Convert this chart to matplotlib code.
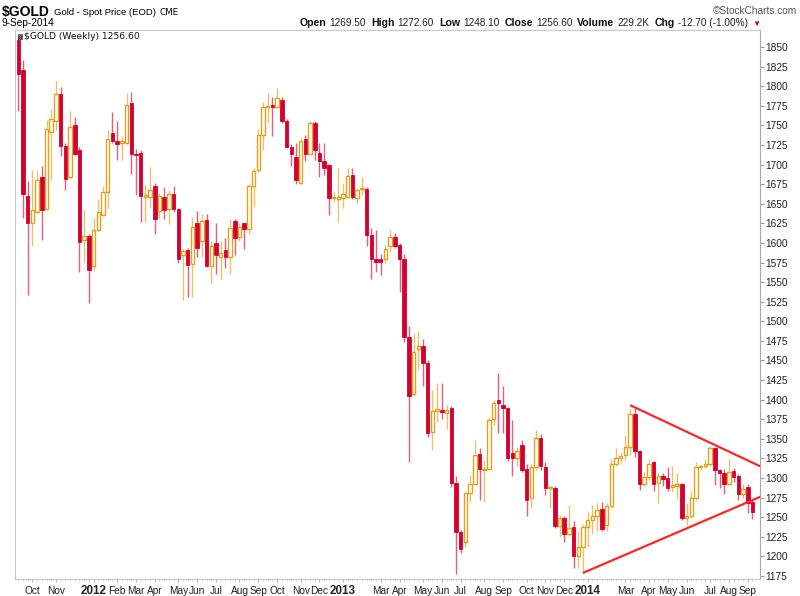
import matplotlib
matplotlib.use("Agg")
import matplotlib.pyplot as plt
import matplotlib.transforms as mtrans
import numpy as np
import pandas as pd

# ---------------- data (weekly OHLC) ----------------
start_week = "2011-09-12"
opens = [1859,1821,1660,1625,1640,1684,1643,1742,1756,1790,
         1724,1684,1751,1718,1604,1609,1571,1617,1636,1665,
         1740,1730,1727,1727,1778,1713,1715,1658,1659,1673,
         1641,1659,1643,1663,1643,1585,1591,1573,1626,1602,
         1629,1571,1600,1582,1591,1582,1628,1607,1625,1618,
         1673,1693,1738,1774,1776,1774,1782,1756,1722,1710,
         1677,1732,1714,1753,1715,1705,1699,1657,1656,1657,
         1659,1687,1657,1669,1669,1610,1579,1579,1579,1596,
         1608,1597,1580,1480,1407,1465,1469,1447,1359,1385,
         1387,1383,1390,1294,1231,1219,1281,1293,1331,1310,
         1312,1375,1399,1393,1389,1332,1325,1342,1312,1274,
         1314,1351,1314,1287,1287,1239,1249,1228,1237,1201,
         1212,1237,1246,1251,1260,1240,1264,1318,1325,1330,
         1339,1382,1334,1293,1301,1320,1294,1303,1300,1288,
         1290,1292,1249,1251,1275,1314,1315,1318,1338,1310,
         1306,1293,1309,1303,1280,1288,1269.5]
highs = [1863,1834,1679,1693,1693,1698,1757,1771,1806,1799,
         1727,1768,1761,1722,1643,1612,1632,1656,1673,1744,
         1767,1756,1736,1791,1793,1720,1718,1674,1697,1676,
         1664,1672,1668,1673,1645,1592,1594,1633,1641,1637,
         1637,1602,1625,1602,1606,1630,1631,1626,1626,1675,
         1696,1745,1780,1791,1786,1798,1786,1758,1726,1727,
         1734,1738,1755,1755,1727,1727,1701,1666,1695,1676,
         1696,1695,1670,1684,1671,1619,1616,1586,1598,1616,
         1613,1600,1586,1494,1485,1487,1477,1450,1412,1421,
         1421,1393,1392,1302,1234,1282,1304,1349,1338,1323,
         1377,1400,1434,1417,1391,1374,1340,1348,1318,1318,
         1361,1356,1320,1290,1290,1253,1252,1265,1245,1232,
         1242,1258,1265,1268,1269,1268,1324,1338,1333,1355,
         1388,1390,1336,1308,1324,1322,1308,1306,1314,1316,
         1307,1294,1268,1283,1320,1317,1324,1341,1340,1312,
         1312,1324,1313,1305,1292,1292,1272.6]
lows = [1768,1632,1534,1596,1638,1604,1642,1680,1744,1711,
        1667,1682,1712,1563,1574,1523,1565,1615,1634,1645,
        1727,1706,1706,1726,1688,1661,1627,1627,1645,1612,
        1630,1630,1624,1640,1574,1527,1531,1531,1582,1582,
        1569,1547,1561,1554,1568,1561,1585,1603,1592,1612,
        1646,1690,1719,1753,1737,1772,1753,1721,1698,1675,
        1675,1704,1714,1706,1684,1687,1636,1652,1627,1645,
        1657,1656,1651,1661,1596,1554,1563,1559,1574,1589,
        1594,1538,1474,1320,1405,1438,1417,1352,1336,1372,
        1375,1363,1289,1178,1204,1212,1270,1293,1272,1270,
        1310,1368,1357,1357,1322,1302,1316,1308,1251,1262,
        1310,1310,1279,1262,1236,1225,1219,1226,1185,1185,
        1179,1212,1229,1233,1233,1233,1262,1315,1318,1323,
        1330,1327,1285,1290,1298,1283,1268,1290,1283,1282,
        1275,1247,1240,1249,1272,1310,1313,1315,1291,1287,
        1280,1291,1295,1272,1275,1256,1248.1]
closes = [1815,1662,1626,1642,1680,1642,1745,1758,1790,1724,
          1682,1748,1714,1601,1609,1565,1616,1640,1665,1733,
          1730,1726,1730,1776,1713,1712,1660,1661,1668,1630,
          1660,1642,1663,1643,1580,1590,1572,1620,1594,1628,
          1571,1596,1584,1587,1582,1619,1606,1620,1618,1673,
          1692,1738,1774,1775,1774,1785,1756,1723,1713,1680,
          1730,1714,1753,1718,1705,1696,1657,1659,1659,1663,
          1685,1659,1668,1670,1610,1579,1576,1576,1592,1608,
          1596,1580,1480,1405,1461,1469,1447,1358,1385,1388,
          1384,1387,1294,1231,1210,1281,1293,1330,1311,1312,
          1374,1396,1396,1389,1325,1325,1335,1310,1272,1314,
          1351,1315,1287,1288,1239,1249,1228,1236,1201,1212,
          1237,1246,1251,1259,1235,1264,1318,1325,1328,1339,
          1382,1334,1292,1301,1318,1293,1303,1299,1287,1291,
          1292,1249,1251,1275,1314,1315,1318,1338,1310,1306,
          1293,1308,1301,1280,1286,1268,1256.6]

# trendlines: (week index, price) end points
upper_line_x = [130, 158]
upper_line_y = [1393, 1314]
lower_line_x = [120, 158]
lower_line_y = [1179, 1277]

# x tick labels: month (YYYY-MM) and shown text
tick_months = ["2011-10","2011-11","2012-01","2012-02","2012-03","2012-04","2012-05",
               "2012-06","2012-07","2012-08","2012-09","2012-10","2012-11","2012-12",
               "2013-01","2013-03","2013-04","2013-05","2013-06","2013-07","2013-08",
               "2013-09","2013-10","2013-11","2013-12","2014-01","2014-03","2014-04",
               "2014-05","2014-06","2014-07","2014-08","2014-09"]
tick_texts = ["Oct","Nov","2012","Feb","Mar","Apr","May","Jun","Jul","Aug","Sep",
              "Oct","Nov","Dec","2013","Mar","Apr","May","Jun","Jul","Aug","Sep",
              "Oct","Nov","Dec","2014","Mar","Apr","May","Jun","Jul","Aug","Sep"]
y_ticks = list(range(1175, 1851, 25))

hdr_labels = ["Open", "High", "Low", "Close", "Volume", "Chg"]
hdr_values = ["1269.50", "1272.60", "1248.10", "1256.60", "229.2K", "-12.70 (-1.00%)"]

# ---------------- figure ----------------
W, H = 800, 596
fig = plt.figure(figsize=(W / 100, H / 100), dpi=100)
fig.patch.set_facecolor("white")
L, R, T, B = 15, 760, 30, 579
ax = fig.add_axes([L / W, 1 - B / H, (R - L) / W, (B - T) / H])

RED = "#d4002e"
RED_WICK = "#e2607c"
ORG = "#e3a21e"
ORG_WICK = "#ebc16a"

o = np.array(opens, float); h = np.array(highs, float)
l = np.array(lows, float); c = np.array(closes, float)
x = np.arange(len(o))
down = c < o

ax.vlines(x[down], l[down], h[down], color=RED_WICK, lw=1.0, zorder=2)
ax.vlines(x[~down], l[~down], h[~down], color=ORG_WICK, lw=1.0, zorder=2)

bw = 0.74
minh = 1.2
bot = np.minimum(o, c)
hgt = np.maximum(np.abs(c - o), minh)
ax.bar(x[down], hgt[down], bottom=bot[down], width=bw, color=RED,
       edgecolor=RED, linewidth=0.6, zorder=3)
ax.bar(x[~down], hgt[~down], bottom=bot[~down], width=bw, color="white",
       edgecolor=ORG, linewidth=1.0, zorder=3)

ax.plot(upper_line_x, upper_line_y, color="#ff2626", lw=1.6, zorder=4,
        solid_capstyle="butt")
ax.plot(lower_line_x, lower_line_y, color="#ff2626", lw=1.6, zorder=4,
        solid_capstyle="butt")

ax.set_xlim(-0.7, 157.6)
ax.set_ylim(1171.2, 1871.7)

# axes styling
for s in ["left", "top", "bottom"]:
    ax.spines[s].set_color("#c8c8c8")
    ax.spines[s].set_linewidth(0.8)
ax.spines["right"].set_color("#a8a8a8")
ax.spines["right"].set_linewidth(0.8)

ax.yaxis.tick_right()
ax.set_yticks(y_ticks)
ax.set_yticklabels([str(v) for v in y_ticks], fontsize=7.3,
                   family="Liberation Sans", color="#222222")
ax.tick_params(axis="y", which="major", length=3, width=0.6, color="#888888",
               pad=1, left=False, right=True)

dates = pd.date_range(start_week, periods=len(o), freq="W-MON")
ym = dates.strftime("%Y-%m")
tick_pos = [int(np.argmax(ym == m)) for m in tick_months]
ax.set_xticks(tick_pos)
ax.set_xticklabels(tick_texts, fontsize=7.3, family="Liberation Sans", color="#222222")
ax.set_xticks(x, minor=True)
ax.tick_params(axis="x", which="major", length=2, width=0.6, color="#aaaaaa", pad=3.5)
ax.tick_params(axis="x", which="minor", length=1.5, width=0.5, color="#bbbbbb")
for t, txt in zip(ax.get_xticklabels(), tick_texts):
    t.set_verticalalignment("center")
    if txt.isdigit():
        t.set_fontweight("bold")
        t.set_fontsize(8.4)
# place label centres at about y = 589 px
ax.xaxis.set_tick_params(pad=7)

# ---------------- header texts ----------------
ident = mtrans.IdentityTransform()
renderer = fig.canvas.get_renderer()

def ptext(px, py, s, **kw):
    return fig.text(px, H - py, s, transform=ident, **kw)

def width_of(t):
    return t.get_window_extent(renderer).width

t1 = ptext(2, 16, "$GOLD", fontsize=10, fontweight="bold", family="Liberation Sans",
           va="baseline")
x1 = 2 + width_of(t1) + 4
t2 = ptext(x1, 15, "Gold - Spot Price (EOD)", fontsize=6.8, family="Liberation Sans",
           va="baseline")
x2 = x1 + width_of(t2) + 4
ptext(x2, 15, "CME", fontsize=6.3, family="DejaVu Sans", va="baseline")
ptext(797, 14, "\u00a9StockCharts.com", fontsize=7.3, family="Liberation Sans",
      color="#555555", va="baseline", ha="right")
ptext(2, 26, "9-Sep-2014", fontsize=7.3, family="Liberation Sans", va="baseline")

pieces = []
for lab, val in zip(hdr_labels, hdr_values):
    pieces.append((lab, "bold", "#111111", 7.6))
    pieces.append((val, "normal", "#222222", 7.2))
pieces.append(("\u25bc", "normal", "#d4002e", 6))

objs = []
widths = []
for s, w, col, fs in pieces:
    t = ptext(0, 26, s, fontsize=fs, fontweight=w, color=col,
              family=["Liberation Sans", "DejaVu Sans"], va="baseline")
    objs.append(t)
    widths.append(width_of(t))
gaps = []
for i in range(len(pieces)):
    if i == len(pieces) - 1:
        gaps.append(0)
    elif pieces[i][1] == "bold":
        gaps.append(3)
    else:
        gaps.append(5)
total = sum(widths) + sum(gaps)
xx = 761 - total
for t, wdt, g in zip(objs, widths, gaps):
    t.set_position((xx, H - 26))
    xx += wdt + g

# label inside the plot
ptext(17, 39, "\u2593", fontsize=4.5, family="DejaVu Sans", va="baseline",
      color="#333333")
ptext(24, 39, "$GOLD (Weekly) 1256.60", fontsize=6.6, family="DejaVu Sans",
      va="baseline", color="#111111")

fig.savefig("out.png", dpi=100, facecolor="white")
